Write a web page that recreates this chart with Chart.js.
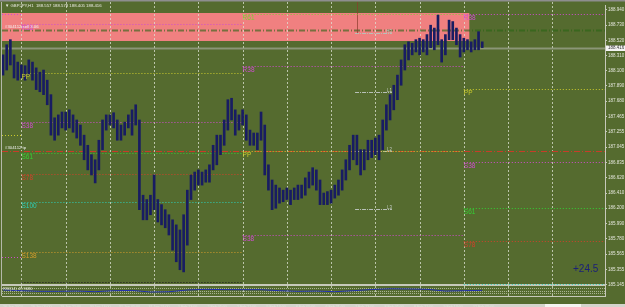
<!DOCTYPE html>
<html>
<head>
<meta charset="utf-8">
<script src="https://cdn.jsdelivr.net/npm/chart.js@4.4.1/dist/chart.umd.min.js"></script>
<style>
html, body { margin: 0; padding: 0; background: #556b2f; overflow: hidden; }
canvas { display: block; }
</style>
</head>
<body>
<canvas id="chart" width="625" height="307"></canvas>
<script>
var barHours = [0,2,4,6,8,10,12,14,16,18,20,22,24,26,28,30,32,34,36,38,
    40,42,44,46,48,50,52,54,56,58,60,62,64,66,68,70,72,74,76,78,
    80,82,84,86,88,90,92,94,96,98,100,102,104,106,108,110,112,114,116,118,
    120,122,124,126,128,130,132,134,136,138,140,142,144,146,148,150,152,154,156,158,
    160,162,164,166,168,170,172,174,176,178,180,182,184,186,188,190,192,194,196,198,
    200,202,204,206,208,210,212,214,216,218,220,222,224,226,228,230,232,234,236,238,
    240,242,244,246,248,250,252,254,256,258,260];
var barHigh = [188.32,188.46,188.53,188.32,188.22,188.18,188.17,188.25,188.22,188.14,
    188.08,188.11,187.97,187.77,187.45,187.49,187.53,187.53,187.56,187.49,
    187.42,187.35,187.21,187.07,186.94,186.87,187.14,187.42,187.49,187.49,
    187.52,187.42,187.35,187.39,187.49,187.56,187.63,187.42,186.38,186.32,
    186.38,186.66,186.32,186.25,186.18,186.11,186.04,185.97,185.90,186.11,
    186.45,186.66,186.70,186.73,186.70,186.73,186.80,187.07,187.21,187.21,
    187.42,187.70,187.72,187.56,187.49,187.56,187.49,187.28,187.24,187.24,
    187.53,187.35,186.80,186.59,186.52,186.48,186.45,186.48,186.45,186.48,
    186.52,186.52,186.62,186.70,186.76,186.73,186.59,186.41,186.43,186.45,
    186.52,186.59,186.73,186.87,187.07,187.21,187.21,187.01,187.01,187.14,
    187.14,187.17,187.21,187.42,187.63,187.77,187.90,188.04,188.25,188.46,
    188.50,188.48,188.53,188.55,188.53,188.60,188.73,188.69,188.87,188.53,
    188.60,188.80,188.78,188.69,188.60,188.55,188.53,188.50,188.53,188.64,
    188.50];
var barLow = [188.04,188.11,188.18,188.00,187.97,188.00,187.97,188.04,187.97,187.84,
    187.81,187.77,187.63,187.21,187.14,187.21,187.31,187.28,187.31,187.25,
    187.17,187.07,186.87,186.73,186.66,186.55,186.73,187.01,187.28,187.35,
    187.31,187.14,187.14,187.21,187.31,187.21,187.35,186.18,186.04,186.04,
    186.11,186.18,186.01,185.97,185.93,185.83,185.62,185.46,185.35,185.32,
    185.69,186.32,186.45,186.52,186.52,186.56,186.56,186.73,186.80,186.94,
    187.07,187.28,187.42,187.21,187.28,187.35,187.14,187.07,187.07,187.01,
    187.14,186.66,186.45,186.18,186.20,186.27,186.29,186.32,186.25,186.32,
    186.32,186.34,186.38,186.48,186.52,186.45,186.25,186.25,186.25,186.27,
    186.34,186.38,186.45,186.59,186.73,186.87,186.80,186.66,186.73,186.87,
    186.90,186.94,186.87,187.01,187.28,187.42,187.56,187.70,187.90,188.11,
    188.25,188.32,188.36,188.32,188.36,188.32,188.42,188.39,188.46,188.22,
    188.32,188.53,188.53,188.46,188.29,188.36,188.39,188.36,188.39,188.39,
    188.42];
var lastPrice = 188.416;
var titleText = '\u25BC GBPJPY,H1  188.557 188.578 188.405 188.416';

var priceTicks = [188.940, 188.730, 188.520, 188.310, 188.100, 187.890, 187.680, 187.465, 187.255, 187.045,
    186.835, 186.620, 186.410, 186.200, 185.990, 185.780, 185.565, 185.355, 185.145];
var timeHours = [0, 15, 31, 47, 63, 79, 95, 111, 127, 143, 159, 175, 191, 207, 223, 239, 255];
var timeLabels = ['26 Jan 2024', '29 Jan 05:00', '29 Jan 21:00', '30 Jan 13:00', '31 Jan 05:00', '31 Jan 21:00',
    '1 Feb 13:00', '2 Feb 05:00', '2 Feb 21:00', '5 Feb 13:00', '6 Feb 05:00', '6 Feb 21:00',
    '7 Feb 13:00', '8 Feb 05:00', '8 Feb 21:00', '9 Feb 13:00', '12 Feb 05:00'];
var dayLines = [10, 34, 58, 82, 106, 130, 154, 178, 202, 226, 250, 274, 298];

// weekly fibonacci pivots
var levelNames = ['R61', 'R38', 'PP', 'S38', 'S61', 'S78', 'S100', 'S138', 'S161'];
var weekStart = [-1, 10, 130, 250];
var weekEnd = [10, 130, 250, 330];
var levelsPrev = [null, 188.88, 187.21, 185.53, null, null, null, null, null];
var levelsWeek1 = [null, 188.75, 188.07, 187.39, 186.96, 186.67, 186.28, 185.60, 185.18];
var levelsWeek2 = [188.88, 188.17, 186.99, 185.83, null, null, null, null, null];
var levelsWeek3 = [null, 188.88, 187.85, 186.84, 186.21, 185.75, 185.15, null, null];

// order #304112 and the zone box
var tradeOpen = 188.66;
var tradeTp = 186.99;
var zoneFrom = -1, zoneTo = 253, zoneLow = 188.51, zoneHigh = 188.90;
var hlNames = ['H3', 'L1', 'L2', 'L3'];
var hlValues = [188.62, 187.81, 186.99, 186.19];
var hlFrom = 191, hlTo = 211;
var pipsText = '+24.5';

// sub window oscillator
var indName = 'RSI(14) 47.9680';
var indHours = [0,10,20,30,40,50,60,70,80,90,100,110,120,130,140,150,160,170,180,190,200,210,220,230,240,250,260];
var indValues = [67,59,52,52,55,48,59,62,44,47,67,74,71,70,70,59,52,55,48,59,72,80,78,74,55,59,63];
var indLevels = [84, 58, 30];

var levelColors = {
    R61: '#7ccc34', R38: '#d04cd0', PP: '#cccc2c', S38: '#d04cd0', S61: '#34d034',
    S78: '#d2402a', S100: '#2cd0b8', S138: '#d49c2a', S161: '#1c1c1c'
};
var weekLevels = [levelsPrev, levelsWeek1, levelsWeek2, levelsWeek3];

function hline(ctx, x1, x2, y, color, dash, width) {
    ctx.beginPath();
    ctx.setLineDash(dash);
    ctx.strokeStyle = color;
    ctx.lineWidth = width || 1;
    y = Math.round(y) + 0.5;
    ctx.moveTo(x1, y);
    ctx.lineTo(x2, y);
    ctx.stroke();
}

var mt4Plugin = {
    id: 'mt4',
    beforeDraw: function(chart) {
        var ctx = chart.ctx;
        ctx.save();
        ctx.fillStyle = '#556b2f';
        ctx.fillRect(0, 0, chart.width, chart.height);
        ctx.fillStyle = '#8e8e8e';
        ctx.fillRect(0, 0, chart.width, 1.5);
        ctx.fillStyle = '#d4d4cc';
        ctx.fillRect(0, 304, chart.width, 3);
        ctx.fillStyle = '#f4f4f0';
        ctx.fillRect(545, 304, 36, 3);
        ctx.restore();
    },
    beforeDatasetsDraw: function(chart) {
        var ctx = chart.ctx, xs = chart.scales.x, ys = chart.scales.y, yi = chart.scales.yInd, a = chart.chartArea;
        ctx.save();
        ctx.beginPath();
        ctx.rect(a.left, 2, a.right - a.left, a.bottom - 2);
        ctx.clip();

        // zone rectangle
        var zx1 = Math.max(a.left, xs.getPixelForValue(zoneFrom));
        var zx2 = xs.getPixelForValue(zoneTo);
        var zy1 = ys.getPixelForValue(zoneHigh), zy2 = ys.getPixelForValue(zoneLow);
        ctx.fillStyle = '#f08080';
        ctx.fillRect(zx1, Math.round(zy1), zx2 - zx1, Math.round(zy2 - zy1));

        // day separators
        ctx.setLineDash([2, 2]);
        ctx.strokeStyle = 'rgba(222,226,212,0.75)';
        ctx.lineWidth = 1;
        dayLines.forEach(function(h) {
            var px = Math.round(xs.getPixelForValue(h)) + 0.5;
            ctx.beginPath();
            ctx.moveTo(px, 2);
            ctx.lineTo(px, a.bottom);
            ctx.stroke();
        });

        // pane separator and oscillator levels
        var sepY = yi.getPixelForValue(110);
        ctx.setLineDash([]);
        ctx.fillStyle = '#c6c9ba';
        ctx.fillRect(a.left, Math.round(sepY) - 2, a.right - a.left, 2);
        indLevels.forEach(function(v) {
            hline(ctx, a.left, a.right, yi.getPixelForValue(v), 'rgba(225,228,215,0.6)', [1, 1]);
        });

        // order lines and bid
        hline(ctx, a.left, a.right, ys.getPixelForValue(tradeOpen), 'rgba(40,100,20,0.6)', [6, 2, 1, 2], 2);
        hline(ctx, a.left, a.right, ys.getPixelForValue(tradeTp), '#c83c28', [6, 2, 1, 2], 1);
        hline(ctx, a.left, a.right, ys.getPixelForValue(lastPrice), 'rgba(175,178,168,0.6)', [], 2);

        // H/L marks
        var hx1 = xs.getPixelForValue(hlFrom), hx2 = xs.getPixelForValue(hlTo);
        hlValues.forEach(function(v) {
            hline(ctx, hx1, hx2, ys.getPixelForValue(v), '#b8c0b8', [4, 1, 1, 1]);
        });
        var mx = Math.round(xs.getPixelForValue(hlFrom + 1)) + 0.5;
        ctx.setLineDash([]);
        ctx.strokeStyle = 'rgba(138,60,44,0.7)';
        ctx.beginPath();
        ctx.moveTo(mx, 0);
        ctx.lineTo(mx, ys.getPixelForValue(hlValues[0]));
        ctx.stroke();

        // weekly pivots
        weekLevels.forEach(function(levels, w) {
            var x1 = Math.max(a.left, xs.getPixelForValue(weekStart[w]));
            var x2 = Math.min(a.right, xs.getPixelForValue(weekEnd[w]));
            levels.forEach(function(v, k) {
                if (v === null) return;
                hline(ctx, x1, x2, ys.getPixelForValue(v), levelColors[levelNames[k]], [1, 2]);
            });
        });
        ctx.restore();
    },
    afterDatasetsDraw: function(chart) {
        var ctx = chart.ctx, xs = chart.scales.x, ys = chart.scales.y, yi = chart.scales.yInd, a = chart.chartArea;
        var sepY = yi.getPixelForValue(110);
        ctx.save();
        ctx.setLineDash([]);

        // pivot labels (only those that fit above the sub window)
        ctx.font = '6.5px "Liberation Sans"';
        ctx.textAlign = 'left';
        ctx.textBaseline = 'top';
        weekLevels.forEach(function(levels, w) {
            var x1 = xs.getPixelForValue(weekStart[w]);
            if (x1 < a.left) return;
            levels.forEach(function(v, k) {
                if (v === null) return;
                var ly = ys.getPixelForValue(v) + 1;
                if (ly + 6 > sepY - 2) return;
                ctx.fillStyle = levelColors[levelNames[k]];
                ctx.fillText(levelNames[k], x1, ly);
            });
        });

        // order labels
        ctx.font = '4.3px "Liberation Sans"';
        ctx.textBaseline = 'bottom';
        ctx.fillStyle = '#f2f2f2';
        ctx.fillText('#304112 sell 3.06', 5, ys.getPixelForValue(tradeOpen) - 1);
        ctx.fillText('#304112 tp', 5, ys.getPixelForValue(tradeTp) - 1);

        // H/L labels
        ctx.font = '4.5px "Liberation Sans"';
        ctx.textAlign = 'right';
        ctx.fillStyle = '#c4ccc4';
        var hx2 = xs.getPixelForValue(hlTo);
        hlValues.forEach(function(v, k) {
            ctx.fillText(hlNames[k], hx2, ys.getPixelForValue(v) + 1);
        });

        // title
        ctx.textAlign = 'left';
        ctx.textBaseline = 'middle';
        ctx.font = '4.3px "Liberation Sans"';
        ctx.fillStyle = '#ecece4';
        ctx.fillText(titleText, 5, 6);

        // oscillator name
        ctx.font = '4px "Liberation Sans"';
        ctx.fillText(indName, 3, yi.getPixelForValue(80));

        // pips
        ctx.font = '10px "Liberation Sans"';
        ctx.fillStyle = '#1b2078';
        ctx.fillText(pipsText, 573, ys.getPixelForValue(185.35));

        // bid price box on the axis
        var by = ys.getPixelForValue(lastPrice);
        ctx.fillStyle = '#f4f4f4';
        ctx.fillRect(a.right + 1, Math.round(by) - 2.5, 20, 5.5);
        ctx.fillStyle = '#3a3a3a';
        ctx.font = '4.5px "Liberation Sans"';
        ctx.fillText(lastPrice.toFixed(3), a.right + 3, by + 0.3);

        // left frame
        ctx.fillStyle = '#b4b8aa';
        ctx.fillRect(1, 2, 1, a.bottom - 2);
        ctx.restore();
    }
};

var chart = new Chart(document.getElementById('chart'), {
    data: {
        datasets: [{
            type: 'bar',
            data: barHours.map(function(h, i) { return { x: h, y: [barLow[i], barHigh[i]] }; }),
            backgroundColor: '#181c62',
            barThickness: 2,
            grouped: false,
            yAxisID: 'y'
        }, {
            type: 'line',
            data: indHours.map(function(h, i) { return { x: h, y: indValues[i] }; }),
            borderColor: '#2230b0',
            borderWidth: 1,
            pointRadius: 0,
            tension: 0,
            yAxisID: 'yInd'
        }]
    },
    options: {
        responsive: false,
        animation: false,
        events: [],
        layout: { padding: { left: 2, top: 5, right: 0, bottom: 0 } },
        plugins: { legend: { display: false }, tooltip: { enabled: false } },
        scales: {
            x: {
                type: 'linear',
                min: -0.54,
                max: 326.6,
                offset: false,
                grid: { display: false, offset: false },
                border: { display: true, color: '#c6c9ba', width: 1 },
                afterBuildTicks: function(s) {
                    s.ticks = timeHours.map(function(v) { return { value: v }; });
                },
                afterFit: function(s) { s.height = 11; },
                ticks: {
                    align: 'start',
                    autoSkip: false,
                    maxRotation: 0,
                    minRotation: 0,
                    padding: 1,
                    color: '#e4e6dc',
                    font: { size: 3.6, family: 'Liberation Sans' },
                    callback: function(v, i) { return timeLabels[i]; }
                }
            },
            y: {
                type: 'linear',
                position: 'right',
                min: 184.987,
                max: 189.009,
                grid: { drawOnChartArea: false, drawTicks: true, tickLength: 2, color: '#c6c9ba' },
                border: { display: true, color: '#c6c9ba', width: 1 },
                afterBuildTicks: function(s) {
                    s.ticks = priceTicks.map(function(v) { return { value: v }; });
                },
                afterFit: function(s) { s.width = 20; },
                ticks: {
                    padding: 1,
                    color: '#e4e6dc',
                    font: { size: 4.5, family: 'Liberation Sans' },
                    callback: function(v) { return Number(v).toFixed(3); }
                }
            },
            yInd: {
                type: 'linear',
                display: false,
                min: 0,
                max: 3233
            }
        }
    },
    plugins: [mt4Plugin]
});
</script>
</body>
</html>
